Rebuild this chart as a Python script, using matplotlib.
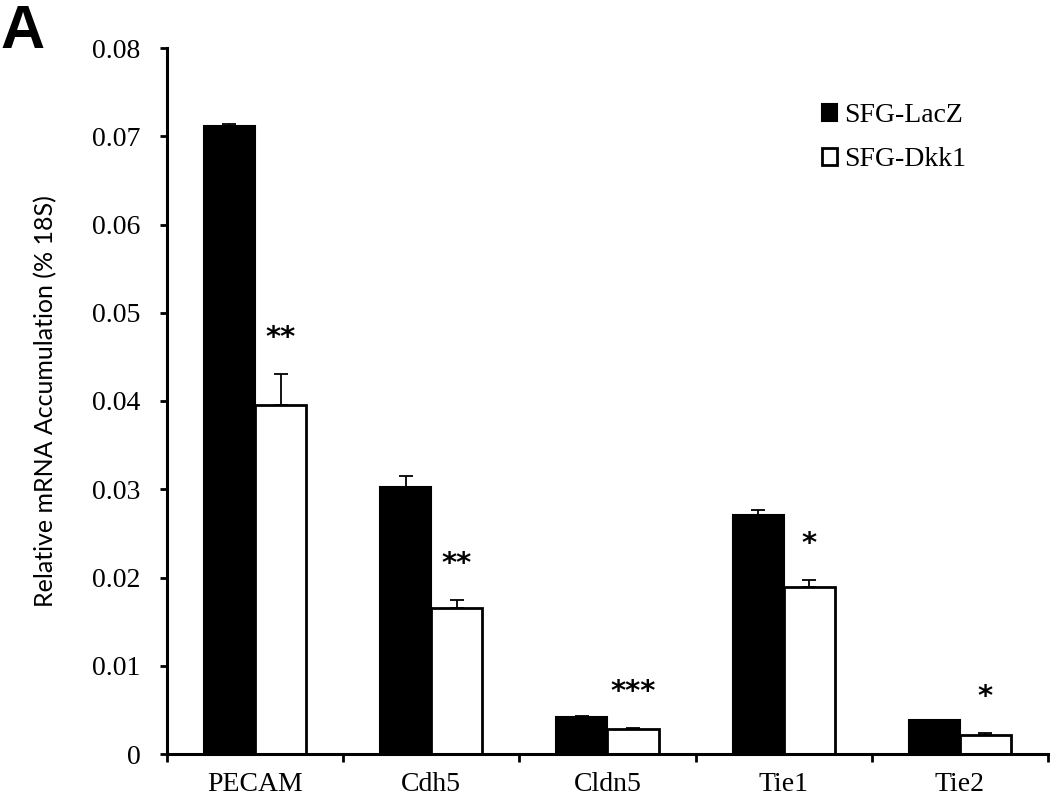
import numpy as np
import matplotlib
matplotlib.use('Agg')
import matplotlib.pyplot as plt

# values
genes = ['PECAM', 'Cdh5', 'Cldn5', 'Tie1', 'Tie2']
lacz = [0.0712, 0.0302, 0.0042, 0.0271, 0.0038]
lacz_err = [0.0002, 0.0013, 0.0001, 0.0006, 0.0001]
dkk1 = [0.0395, 0.0166, 0.0028, 0.0189, 0.0022]
dkk1_err = [0.0036, 0.0008, 0.0001, 0.0008, 0.0002]
stars = ['**', '**', '***', '*', '*']
series_names = ['SFG-LacZ', 'SFG-Dkk1']
yticks = [0, 0.01, 0.02, 0.03, 0.04, 0.05, 0.06, 0.07, 0.08]

plt.rcParams['font.family'] = 'Liberation Serif'

fig = plt.figure(figsize=(10.5, 8), dpi=100)
ax = fig.add_axes([0.159, 0.0575, 0.839, 0.8825])

x = np.arange(len(genes))
w = 0.29
err_kw = dict(ecolor='black', elinewidth=1.3, capsize=5, capthick=1.3)

b1 = ax.bar(x - w / 2, lacz, w, color='black', edgecolor='black', linewidth=1.5,
            yerr=[np.zeros(len(genes)), lacz_err], error_kw=err_kw, zorder=2)
b2 = ax.bar(x + w / 2, dkk1, w, color='white', edgecolor='black', linewidth=2,
            yerr=[np.zeros(len(genes)), dkk1_err], error_kw=err_kw, zorder=2)

# significance stars above the Dkk1 bars
for i in range(len(genes)):
    ax.annotate(stars[i], (x[i] + w / 2, dkk1[i] + dkk1_err[i]),
                xytext=(0, 26), textcoords='offset points',
                ha='center', va='center', fontsize=21, fontweight='bold',
                family='DejaVu Sans')

ax.set_xlim(-0.5, len(genes) - 0.5)
ax.set_ylim(0, 0.08)

ax.set_yticks(yticks)
ax.set_yticklabels(['0'] + ['%.2f' % v for v in yticks[1:]], fontsize=20)
ax.tick_params(axis='y', direction='out', length=5, width=2, pad=14)

ax.set_xticks(np.arange(-0.5, len(genes), 1))
ax.set_xticklabels([])
ax.set_xticks(x, minor=True)
ax.set_xticklabels(genes, minor=True, fontsize=20)
ax.tick_params(axis='x', which='major', direction='out', length=6, width=2)
ax.tick_params(axis='x', which='minor', length=0, pad=13)

for s in ['top', 'right']:
    ax.spines[s].set_visible(False)
for s in ['left', 'bottom']:
    ax.spines[s].set_linewidth(2.2)

ax.set_ylabel('Relative mRNA Accumulation (% 18S)', fontsize=18, family='Lato')
ax.yaxis.set_label_coords(-0.125, 0.5)

ax.legend([b1, b2], series_names, loc='upper left',
          bbox_to_anchor=(822 / 1050, 1 - 103 / 800), bbox_transform=fig.transFigure,
          frameon=False, prop={'family': 'Liberation Serif', 'size': 20},
          handlelength=0.55, handleheight=0.55, handletextpad=0.25,
          labelspacing=0.7, borderpad=0, borderaxespad=0)

fig.text(0.0, 0.995, 'A', ha='left', va='top', fontsize=44,
         fontweight='bold', family='Liberation Sans')

fig.savefig('out.png', dpi=100)
